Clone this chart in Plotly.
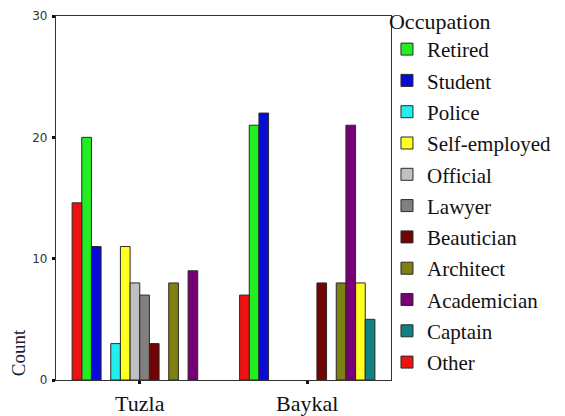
import plotly.graph_objects as go

cities = ["Tuzla", "Baykal"]
occupations = ["Retired", "Student", "Police", "Self-employed", "Official", "Lawyer",
               "Beautician", "Architect", "Academician", "Captain", "Other"]
# counts per occupation: [Tuzla, Baykal]
counts = {
    "Retired":       [20, 21],
    "Student":       [11, 22],
    "Police":        [3, None],
    "Self-employed": [11, 8],
    "Official":      [8, None],
    "Lawyer":        [7, None],
    "Beautician":    [3, 8],
    "Architect":     [8, 8],
    "Academician":   [9, 21],
    "Captain":       [None, 5],
    "Other":         [14.6, 7],
}
# cluster slot (of 14) each bar occupies in each city group: [Tuzla, Baykal]
slots = {
    "Retired":       [1, 1],
    "Student":       [2, 2],
    "Police":        [4, 4],
    "Self-employed": [5, 12],
    "Official":      [6, 6],
    "Lawyer":        [7, 7],
    "Beautician":    [8, 8],
    "Architect":     [10, 10],
    "Academician":   [12, 11],
    "Captain":       [13, 13],
    "Other":         [0, 0],
}
colors = {
    "Retired": "#22ee22",
    "Student": "#0a0ad8",
    "Police": "#22eeee",
    "Self-employed": "#ffff22",
    "Official": "#c0c0c0",
    "Lawyer": "#808080",
    "Beautician": "#700404",
    "Architect": "#7f7f12",
    "Academician": "#770077",
    "Captain": "#118080",
    "Other": "#ee1111",
}

N_SLOTS = 14
SLOT_W = 0.0577
START = -N_SLOTS * SLOT_W / 2

fig = go.Figure()
for i, occ in enumerate(occupations):
    fig.add_trace(go.Bar(
        name=occ,
        x=cities,
        y=counts[occ],
        width=SLOT_W,
        offset=[START + s * SLOT_W for s in slots[occ]],
        marker=dict(color=colors[occ], line=dict(color="#2a2a2a", width=1)),
        legendgroup=occ,
    ))

serif = "Liberation Serif"
fig.update_layout(
    width=557, height=408,
    barmode="overlay",
    plot_bgcolor="white", paper_bgcolor="white",
    margin=dict(l=48, r=174, t=8, b=36, autoexpand=False),
    xaxis=dict(
        type="category", range=[-0.5, 1.5],
        showline=True, mirror=True, linecolor="#333333", linewidth=1.2,
        ticks="outside", ticklen=3, tickwidth=3, tickcolor="#111111",
        tickfont=dict(family=serif, size=22, color="#111111"),
        ticklabelstandoff=0,
        showgrid=False, zeroline=False,
    ),
    yaxis=dict(
        range=[0, 30], tickvals=[0, 10, 20, 30],
        showline=True, mirror=True, linecolor="#333333", linewidth=1.2,
        ticks="outside", ticklen=3, tickwidth=3, tickcolor="#111111",
        tickfont=dict(family="DejaVu Sans", size=12, color="#333333"),
        ticklabelstandoff=2,
        showgrid=False, zeroline=False,
    ),
    legend=dict(
        title=dict(text="Occupation", font=dict(family=serif, size=22, color="#111111")),
        font=dict(family=serif, size=21, color="#111111"),
        x=0.988, xanchor="left", y=1.043, yanchor="top",
        traceorder="grouped", tracegroupgap=1,
        itemwidth=30, maxheight=416,
        bgcolor="rgba(0,0,0,0)",
    ),
    annotations=[dict(
        text="Count", textangle=-90, showarrow=False,
        xref="paper", yref="paper", x=-0.112, y=0.075, xanchor="center", yanchor="middle",
        font=dict(family=serif, size=19, color="#1a1a3a"),
    )],
)

fig.write_html("out.html")
